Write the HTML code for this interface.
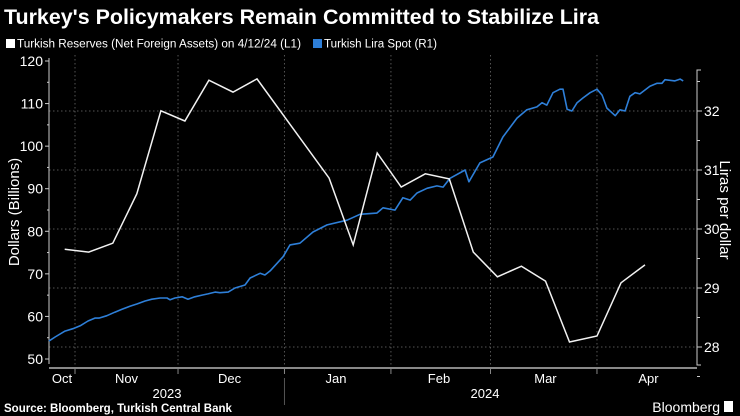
<!DOCTYPE html>
<html><head><meta charset="utf-8"><style>
body{margin:0;background:#000;width:740px;height:416px;overflow:hidden;font-family:"Liberation Sans",sans-serif}
svg{display:block}
</style></head><body>
<svg id="chart" width="740" height="416" viewBox="0 0 740 416">
<text x="4" y="24" fill="#fff" font-size="21" font-weight="bold" textLength="595" lengthAdjust="spacingAndGlyphs">Turkey's Policymakers Remain Committed to Stabilize Lira</text>
<g>
<rect x="6" y="39" width="9" height="9" fill="#fff"/>
<text x="17" y="47.5" fill="#fff" font-size="11.5" textLength="284" lengthAdjust="spacingAndGlyphs">Turkish Reserves (Net Foreign Assets) on 4/12/24 (L1)</text>
<rect x="313" y="39" width="9" height="9" fill="#2e7fd8"/>
<text x="324" y="47.5" fill="#fff" font-size="11.5" textLength="113" lengthAdjust="spacingAndGlyphs">Turkish Lira Spot (R1)</text>
</g>
<g id="grid"></g><g id="axes"></g><g id="series"></g>
<text transform="translate(19,212) rotate(-90)" text-anchor="middle" fill="#fff" font-size="15">Dollars (Billions)</text>
<text transform="translate(720,210) rotate(90)" text-anchor="middle" fill="#fff" font-size="15">Liras per dollar</text>
<text x="4" y="412" fill="#fff" font-size="11.5" font-weight="bold">Source: Bloomberg, Turkish Central Bank</text>
<text x="720" y="412" text-anchor="end" fill="#fff" font-size="14">Bloomberg</text>
<rect x="724" y="401" width="9" height="11" fill="#fff"/>
</svg>
<script>
const monthLabels=["Oct","Nov","Dec","Jan","Feb","Mar","Apr"];
const monthMidDays=[-3.8,15,45,76,106,137,167];
const monthStartDays=[0,30,61,92,121,152];
const leftTicks=[50,60,70,80,90,100,110,120];
const rightTicks=[28,29,30,31,32];
const reserveDays=[-3,4,11,18,25,32,39,46,53,74,81,88,95,102,109,116,123,130,137,144,152,159,166];
const reserveValues=[75.8,75.1,77.2,88.8,108.3,105.9,115.5,112.7,115.8,92.5,76.8,98.4,90.4,93.5,92.3,75.1,69.3,71.8,68.3,54.0,55.4,67.9,72.1];
const liraDays=[-7.6,-5.8,-2.9,-0.6,1.5,3.8,5.8,7.0,9.3,11.6,13.7,16.0,18.1,20.4,22.4,24.8,26.8,27.7,29.1,31.2,32.9,34.9,37.0,38.7,40.8,42.2,44.6,46.6,49.5,51.0,53.9,55.3,56.8,60.6,62.6,65.5,69.3,73.4,79.2,83.0,87.9,89.7,93.2,95.5,97.6,99.6,102.5,105.4,107.2,109.2,113.6,114.7,117.9,121.7,124.6,128.7,131.6,134.5,136.0,137.4,139.2,141.2,142.1,143.3,144.7,146.2,147.9,150.0,152.0,153.5,154.9,157.3,158.7,160.2,161.6,163.1,164.5,167.4,169.5,170.9,171.8,174.7,176.2,177.1];
const liraValues=[28.10,28.17,28.27,28.31,28.36,28.44,28.49,28.49,28.53,28.59,28.64,28.69,28.73,28.78,28.81,28.83,28.83,28.80,28.83,28.85,28.81,28.85,28.88,28.90,28.93,28.92,28.93,29.00,29.05,29.17,29.25,29.22,29.29,29.53,29.73,29.76,29.95,30.07,30.15,30.25,30.27,30.36,30.32,30.53,30.49,30.61,30.69,30.73,30.71,30.86,31.00,30.80,31.12,31.22,31.56,31.88,32.02,32.07,32.14,32.10,32.31,32.37,32.37,32.03,32.00,32.14,32.22,32.31,32.37,32.27,32.05,31.92,32.02,32.00,32.25,32.31,32.29,32.42,32.47,32.47,32.53,32.51,32.54,32.51];

const NS="http://www.w3.org/2000/svg";
const X0=49,X1=697,Y0=368;
const xs=d=>75+d*3.434;
const yL=v=>61+(120-v)*4.257;
const yR=v=>111+(32-v)*59;
function mk(tag,attrs,parent){const e=document.createElementNS(NS,tag);for(const k in attrs)e.setAttribute(k,attrs[k]);parent.appendChild(e);return e;}
const grid=document.getElementById('grid'),axes=document.getElementById('axes'),series=document.getElementById('series');
monthStartDays.forEach(d=>{
 const l=mk('line',{x1:xs(d),x2:xs(d),y1:55,y2:Y0,stroke:'#555','stroke-dasharray':'1.5,2.5','stroke-width':1},grid);
 
 
 const t=mk('line',{x1:xs(d),x2:xs(d),y1:Y0,y2:Y0+6,stroke:'#888','stroke-width':1},axes);
 
 
});
rightTicks.forEach(v=>{
 const l=mk('line',{x1:X0,x2:X1,y1:yR(v),y2:yR(v),stroke:'#555','stroke-dasharray':'1.5,2.5','stroke-width':1},grid);
 
 
 const tk=mk('line',{x1:X1,x2:X1+5,y1:yR(v),y2:yR(v),stroke:'#ccc'},axes);
 
 
 const t=mk('text',{x:X1+7,y:yR(v)+5,fill:'#fff','font-size':14},axes);
 t.textContent=v;
 
 
});
for(let v=27.5;v<=32.8;v+=0.5){if(v%1){const m=mk('line',{x1:X1,x2:X1+3,y1:yR(v),y2:yR(v),stroke:'#ccc'},axes);}}
const ra=mk('path',{d:`M${X1+4},70 H${X1} V365 H${X1+4}`,stroke:'#ccc',fill:'none'},axes);


const la=mk('line',{x1:X0,x2:X0,y1:58,y2:364,stroke:'#ccc'},axes);


leftTicks.forEach(v=>{
 const tk=mk('line',{x1:X0-4,x2:X0,y1:yL(v),y2:yL(v),stroke:'#ccc'},axes);
 
 
 const t=mk('text',{x:X0-6,y:yL(v)+5,fill:'#fff','font-size':14,'text-anchor':'end'},axes);
 t.textContent=v;
 
 
 if(v<120){const m=mk('line',{x1:X0-2,x2:X0,y1:yL(v+5),y2:yL(v+5),stroke:'#ccc'},axes);}
});
const xa=mk('line',{x1:X0,x2:X1,y1:Y0,y2:Y0,stroke:'#888','stroke-width':2},axes);


monthLabels.forEach((m,i)=>{
 const t=mk('text',{x:xs(monthMidDays[i]),y:383,fill:'#fff','font-size':13,'text-anchor':'middle'},axes);
 t.textContent=m;
 
 
});
const ys=mk('line',{x1:xs(61),x2:xs(61),y1:378,y2:405,stroke:'#555'},axes);


[["2023",167],["2024",485]].forEach(([y,x])=>{
 const t=mk('text',{x:x,y:398,fill:'#fff','font-size':13,'text-anchor':'middle'},axes);
 t.textContent=y;
 
 
});
const lp=mk('path',{d:liraDays.map((d,i)=>(i?'L':'M')+xs(d).toFixed(1)+','+yR(liraValues[i]).toFixed(1)).join(''),stroke:'#2e7fd8',fill:'none','stroke-width':1.6,'stroke-linejoin':'round'},series);


const rp=mk('path',{d:reserveDays.map((d,i)=>(i?'L':'M')+xs(d).toFixed(1)+','+yL(reserveValues[i]).toFixed(1)).join(''),stroke:'#f2f2f2',fill:'none','stroke-width':1.5,'stroke-linejoin':'miter'},series);


</script>
</body></html>
